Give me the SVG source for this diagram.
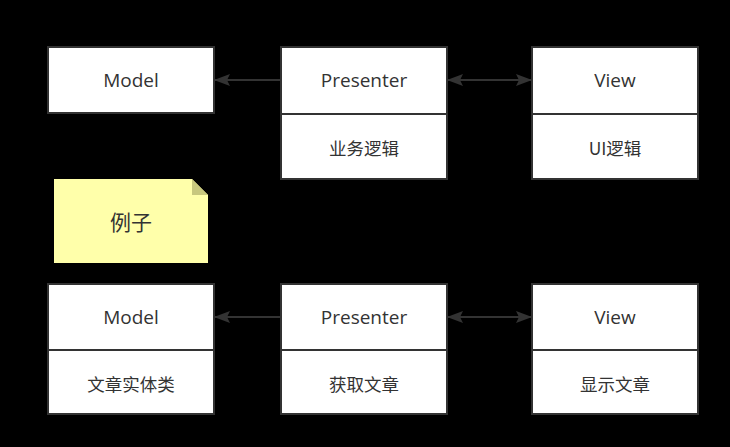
<svg xmlns="http://www.w3.org/2000/svg" width="730" height="447" viewBox="0 0 730 447">
<style>
.box{fill:#fff;stroke:#333;stroke-width:2}
.div{stroke:#333;stroke-width:2}
.t{font-family:"Open Sans","Noto Sans CJK SC",sans-serif;font-size:19px;fill:#333;text-anchor:middle;dominant-baseline:central}
.c{font-family:"Noto Sans CJK SC",sans-serif;font-size:17.5px;fill:#333;text-anchor:middle;dominant-baseline:central}
.ln{stroke:#333;stroke-width:2;fill:none}
</style>
<defs>
<marker id="ah" viewBox="0 0 16 12" refX="15" refY="6" markerWidth="16" markerHeight="12" markerUnits="userSpaceOnUse" orient="auto-start-reverse">
<path d="M0,0 L16,6 L0,12 L3,6 Z" fill="#333"/>
</marker>
</defs>
<rect width="730" height="447" fill="#000"/>
<g id="connectors">
<line class="ln" x1="281" y1="80" x2="215" y2="80" marker-end="url(#ah)"/>
<line class="ln" x1="448" y1="80" x2="531" y2="80" marker-start="url(#ah)" marker-end="url(#ah)"/>
<line class="ln" x1="281" y1="317" x2="215" y2="317" marker-end="url(#ah)"/>
<line class="ln" x1="448" y1="317" x2="531" y2="317" marker-start="url(#ah)" marker-end="url(#ah)"/>
</g>
<g id="model1">
<rect class="box" x="48" y="47" width="166" height="66"/>
<text class="t" x="131" y="80">Model</text>
</g>
<g id="presenter1">
<rect class="box" x="281" y="47" width="166" height="132"/>
<line class="div" x1="281" y1="114" x2="447" y2="114"/>
<text class="t" x="364" y="80">Presenter</text>
<text class="c" x="364" y="147">业务逻辑</text>
</g>
<g id="view1">
<rect class="box" x="532" y="47" width="166" height="132"/>
<line class="div" x1="532" y1="114" x2="698" y2="114"/>
<text class="t" x="615" y="80">View</text>
<text class="c" x="615" y="147">UI逻辑</text>
</g>
<g id="note">
<path d="M54,179 L192,179 L208,195 L208,263 L54,263 Z" fill="#ffffaa"/>
<path d="M192,179 L208,195 L192,195 Z" fill="#c8c87e"/>
<text class="c" x="131" y="221" style="font-size:21px">例子</text>
</g>
<g id="model2">
<rect class="box" x="48" y="284" width="166" height="130"/>
<line class="div" x1="48" y1="350" x2="214" y2="350"/>
<text class="t" x="131" y="317">Model</text>
<text class="c" x="131" y="383">文章实体类</text>
</g>
<g id="presenter2">
<rect class="box" x="281" y="284" width="166" height="130"/>
<line class="div" x1="281" y1="350" x2="447" y2="350"/>
<text class="t" x="364" y="317">Presenter</text>
<text class="c" x="364" y="383">获取文章</text>
</g>
<g id="view2">
<rect class="box" x="532" y="284" width="166" height="130"/>
<line class="div" x1="532" y1="350" x2="698" y2="350"/>
<text class="t" x="615" y="317">View</text>
<text class="c" x="615" y="383">显示文章</text>
</g>
</svg>
